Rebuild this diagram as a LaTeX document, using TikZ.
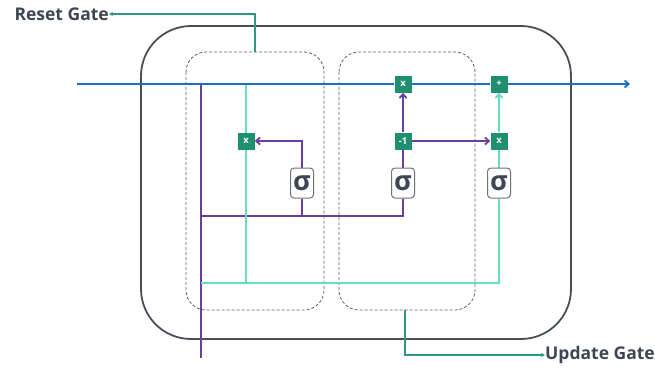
\documentclass[tikz,border=0pt]{standalone}
\usepackage{fontspec}
\setmainfont{Open Sans}
\usetikzlibrary{arrows.meta,backgrounds}
\definecolor{cblue}{HTML}{1A6FC4}
\definecolor{cpurple}{HTML}{6A3D9E}
\definecolor{clight}{HTML}{63DCC0}
\definecolor{cgate}{HTML}{1F8F6F}
\definecolor{clead}{HTML}{2A9A82}
\definecolor{ctext}{HTML}{3D4654}
\definecolor{couter}{HTML}{4A4F57}
\definecolor{cdash}{HTML}{5A5F66}
\tikzset{
  gatebox/.style={fill=cgate,draw=none,minimum width=17pt,minimum height=17pt,inner sep=0pt,text=white,font=\bfseries\fontsize{9.5}{9.5}\selectfont},
  sigbox/.style={fill=white,draw=couter!80,line width=1pt,rounded corners=3.5pt,minimum width=23pt,minimum height=30pt,inner sep=0pt,text=ctext,font=\bfseries\fontsize{27}{27}\selectfont},
  outerbox/.style={draw=couter,line width=1.8pt,rounded corners=50pt},
  dashbox/.style={draw=cdash,dash pattern=on 3pt off 2pt,line width=0.8pt,rounded corners=20pt},
  blueline/.style={draw=cblue,line width=1.8pt},
  purpleline/.style={draw=cpurple,line width=1.8pt},
  lightline/.style={draw=clight,line width=1.8pt},
  leadline/.style={draw=clead,line width=1.6pt},
  labeltext/.style={text=ctext,font=\bfseries\fontsize{17.5}{17.5}\selectfont,inner sep=0pt},
  tip/.style={-{Straight Barb[length=4pt,width=7pt]}}
}
\begin{document}
\begin{tikzpicture}[x=1pt,y=-1pt]
\useasboundingbox (0,0) rectangle (655,368);
% gates
\node[gatebox] (rx) at (246,141) {x};
\node[gatebox] (ux) at (403,84) {x};
\node[gatebox] (neg) at (403,141) {-1};
\node[gatebox] (zx) at (499,141) {x};
\node[gatebox] (plus) at (499,84) {+};
\node[sigbox] (s1) at (302,183) {σ};
\node[sigbox] (s2) at (403,183) {σ};
\node[sigbox] (s3) at (499,183) {σ};
\node[labeltext,anchor=east] (reset) at (109,14) {Reset Gate};
\node[labeltext,anchor=west] (update) at (545,355) {Update Gate};
\coordinate (in) at (77,84);
\coordinate (out) at (630,84);
\coordinate (htop) at (201,84);
\coordinate (hbot) at (201,358);
\coordinate (pj) at (201,216);
\coordinate (j1) at (302,216);
\coordinate (ltop) at (246,84);
\coordinate (lbot) at (246,283);
\coordinate (lj) at (201,283);
\coordinate (rtop) at (255,52);
\coordinate (ubot) at (405,310);
\begin{scope}[on background layer]
\draw[outerbox] (141,26) rectangle (571,339);
\draw[dashbox] (186,52) rectangle (324,310);
\draw[dashbox] (339,52) rectangle (475,310);
% purple
\draw[purpleline] (htop) -- (hbot);
\draw[purpleline] (pj) -| (s2.south);
\draw[purpleline] (j1) -- (s1.south);
\draw[purpleline,tip] (s1.north) |- (rx.east);
\draw[purpleline] (s2.north) -- (neg.south);
\draw[purpleline,tip] (neg.north) -- (ux.south);
\draw[purpleline,tip] (neg.east) -- (zx.west);
% light
\draw[lightline] (ltop) -- (lbot);
\draw[lightline] (lj) -| (s3.south);
\draw[lightline] (s3.north) -- (zx.south);
\draw[lightline,tip] (zx.north) -- (plus.south);
% blue
\draw[blueline] (in) -- (ux.west);
\draw[blueline] (ux.east) -- (plus.west);
\draw[blueline,tip] (plus.east) -- (out);
% leaders
\draw[leadline,-{Stealth[length=4pt,width=4pt]}] (rtop) |- (reset.east);
\draw[leadline,-{Stealth[length=4pt,width=4pt]}] (ubot) |- (update.west);
\end{scope}
\end{tikzpicture}
\end{document}
